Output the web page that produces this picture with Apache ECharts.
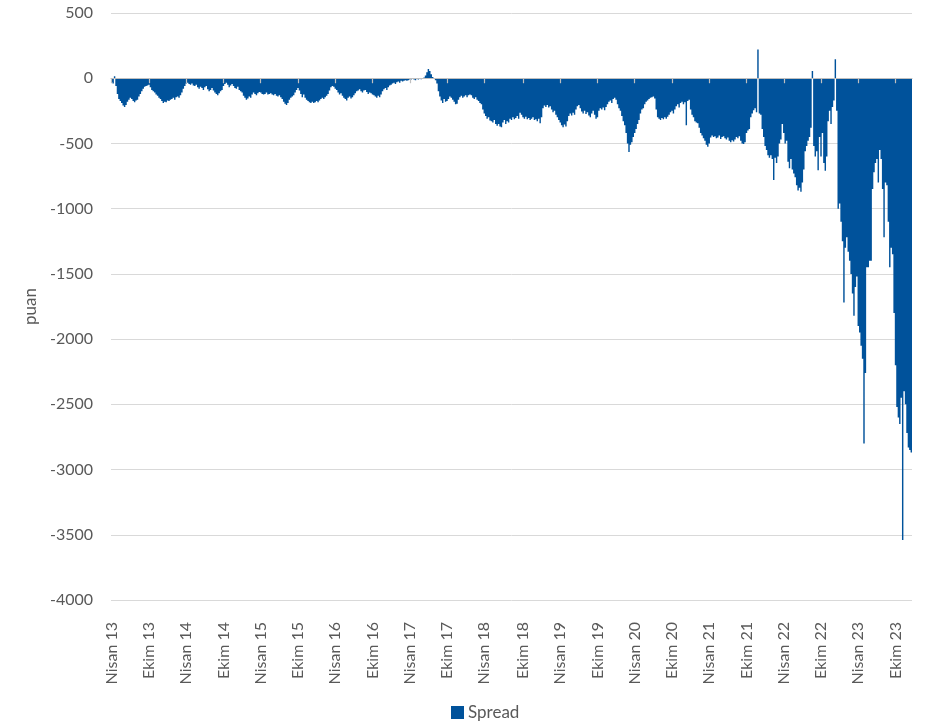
<!DOCTYPE html>
<html>
<head>
<meta charset="utf-8">
<script src="https://cdn.jsdelivr.net/npm/echarts@6/dist/echarts.min.js"></script>
<style>
html,body{margin:0;padding:0;background:#fff;}
#chart{width:927px;height:728px;}
</style>
</head>
<body>
<div id="chart"></div>
<script>
// Weekly spread values (puan), week 0 = week of 1 Apr 2013
const startDate = '2013-04-01';
const nisan13 = [-30,-40,15,-60,-120,-160,-175,-190,-210,-220,-205,-180,-165,-150,-160,-175,-185,-170,-165,-140,-120,-100,-80,-65,-60,-55];
const ekim13 = [-50,-70,-90,-100,-110,-125,-135,-150,-160,-175,-190,-180,-185,-170,-175,-165,-160,-150,-165,-145,-140,-150,-130,-110,-80,-60];
const nisan14 = [-40,-35,-45,-50,-40,-55,-60,-50,-70,-80,-65,-75,-90,-70,-60,-85,-100,-90,-75,-95,-110,-120,-130,-115,-100,-90];
const ekim14 = [-60,-45,-35,-50,-70,-55,-45,-60,-75,-80,-65,-90,-100,-110,-135,-150,-165,-155,-140,-150,-125,-110,-120,-130,-115,-105];
const nisan15 = [-110,-120,-125,-120,-110,-125,-120,-115,-125,-130,-120,-135,-140,-130,-145,-160,-180,-195,-205,-190,-165,-150,-140,-130,-110,-90];
const ekim15 = [-75,-95,-120,-145,-125,-150,-165,-175,-185,-190,-180,-190,-185,-175,-185,-170,-160,-150,-160,-145,-135,-120,-95,-70,-60,-65,-80];
const nisan16 = [-90,-110,-125,-115,-135,-150,-160,-170,-150,-140,-155,-145,-130,-115,-100,-95,-85,-100,-110,-95,-90,-105,-120,-110,-115,-125];
const ekim16 = [-130,-140,-150,-135,-145,-125,-100,-85,-75,-90,-70,-55,-50,-40,-35,-45,-30,-25,-35,-20,-25,-20,-15,-20,-15,-10];
const nisan17 = [-10,-5,-10,-15,-5,-10,-5,-8,0,5,20,45,70,55,30,10,-5,-15,-40,-100,-140,-170,-190,-160,-180,-175];
const ekim17 = [-160,-140,-150,-165,-180,-200,-195,-165,-145,-135,-150,-140,-130,-145,-130,-125,-130,-150,-160,-145,-165,-175,-190,-200,-240,-270];
const nisan18 = [-290,-310,-300,-325,-330,-340,-320,-350,-365,-350,-370,-375,-340,-320,-350,-330,-340,-310,-320,-300,-315,-305,-290,-310,-265,-280];
const ekim18 = [-300,-310,-295,-315,-305,-320,-310,-300,-320,-315,-330,-310,-345,-300,-230,-210,-220,-205,-225,-215,-240,-260,-250,-280,-300,-320];
const nisan19 = [-340,-360,-375,-355,-370,-330,-290,-270,-285,-265,-280,-240,-215,-205,-230,-255,-270,-250,-275,-260,-285,-300,-270,-250,-280,-310];
const ekim19 = [-300,-250,-230,-240,-225,-245,-220,-200,-180,-170,-190,-160,-150,-165,-200,-230,-250,-290,-330,-360,-420,-500,-565,-510,-490,-450];
const nisan20 = [-420,-390,-350,-320,-270,-240,-230,-200,-180,-170,-160,-150,-145,-140,-155,-240,-300,-310,-320,-305,-315,-300,-310,-295,-280,-260];
const ekim20 = [-250,-270,-240,-215,-200,-225,-190,-180,-200,-185,-360,-175,-165,-240,-280,-300,-330,-340,-345,-380,-420,-440,-460,-480,-510,-525];
const nisan21 = [-500,-455,-440,-450,-445,-460,-455,-440,-465,-450,-445,-460,-470,-455,-480,-490,-475,-485,-470,-450,-460,-445,-480,-500,-505,-490];
const ekim21 = [-420,-400,-390,-300,-270,-245,-230,-260,220,-270,-280,-390,-450,-520,-550,-590,-610,-590,-620,-780,-610,-650,-600,-500,-470,-350];
const nisan22 = [-420,-500,-480,-640,-690,-620,-700,-730,-760,-820,-860,-840,-870,-800,-700,-560,-520,-480,-450,-380,55,-520,-600,-560,-705,-450,-600];
const ekim22 = [-420,-650,-710,-600,-330,-250,-350,-220,-170,145,-250,-1000,-960,-1100,-1250,-1720,-1300,-1220,-1330,-1400,-1500,-1650,-1820,-1600,-1520,-1900];
const nisan23 = [-1950,-2050,-2150,-2800,-2260,-1450,-1450,-1400,-1400,-850,-720,-650,-620,-800,-550,-620,-850,-1220,-800,-820,-1100,-1450,-1300,-1350,-1800,-2200];
const ekim23 = [-2520,-2600,-2650,-2450,-3540,-2400,-2500,-2720,-2830,-2850,-2870];

const tickLabels = ['Nisan 13','Ekim 13','Nisan 14','Ekim 14','Nisan 15','Ekim 15','Nisan 16','Ekim 16','Nisan 17','Ekim 17','Nisan 18','Ekim 18','Nisan 19','Ekim 19','Nisan 20','Ekim 20','Nisan 21','Ekim 21','Nisan 22','Ekim 22','Nisan 23','Ekim 23'];
const seriesName = 'Spread';
const yTicks = [500, 0, -500, -1000, -1500, -2000, -2500, -3000, -3500, -4000];

const values = [].concat(nisan13, ekim13, nisan14, ekim14, nisan15, ekim15, nisan16, ekim16, nisan17, ekim17, nisan18, ekim18, nisan19, ekim19, nisan20, ekim20, nisan21, ekim21, nisan22, ekim22, nisan23, ekim23);

// week start dates as categories
const categories = [];
const labelAt = {};
{
  const base = new Date(startDate + 'T00:00:00Z');
  let k = 0;
  for (let i = 0; i < values.length; i++) {
    const d = new Date(base.getTime() + i * 7 * 86400000);
    categories.push(d.toISOString().slice(0, 10));
    const sun = new Date(d.getTime() + 6 * 86400000);
    const m = sun.getUTCMonth();
    if (i === 0 || ((m === 3 || m === 9) && sun.getUTCDate() <= 7)) {
      if (k < tickLabels.length) { labelAt[i] = tickLabels[k]; k++; }
    }
  }
}
const isTick = (idx) => labelAt[idx] !== undefined;

const FONT = 'Lato';
const TXT = '#595959';
const BLUE = '#00529B';

const chart = echarts.init(document.getElementById('chart'), null, {renderer: 'canvas'});
chart.setOption({
  animation: false,
  grid: {left: 111, right: 15, top: 13, bottom: 128, containLabel: false},
  legend: {
    data: [seriesName], bottom: 2, left: 446, icon: 'rect',
    itemWidth: 13, itemHeight: 13, itemGap: 5,
    textStyle: {fontFamily: FONT, fontSize: 17, color: TXT, padding: [0,0,0,-1]}
  },
  xAxis: [{
    type: 'category', data: categories, position: 'bottom', z: 10,
    axisLine: {show: true, onZero: true, lineStyle: {color: '#bfbfbf', width: 1.2}},
    axisTick: {show: true, interval: (i) => isTick(i), alignWithLabel: true, length: 5, lineStyle: {color: '#bfbfbf', width: 1.2}},
    axisLabel: {show: false},
    splitLine: {show: false}
  }, {
    type: 'category', data: categories, position: 'bottom',
    axisLine: {show: false, onZero: false},
    axisTick: {show: false},
    axisLabel: {
      show: true, interval: (i) => isTick(i), rotate: 90, margin: 22,
      formatter: (v, i) => labelAt[i] || '',
      fontFamily: FONT, fontSize: 16, color: TXT
    },
    splitLine: {show: false}
  }],
  yAxis: {
    type: 'value', min: yTicks[yTicks.length - 1], max: yTicks[0], interval: 500,
    name: 'puan', nameLocation: 'middle', nameGap: 67, nameRotate: 90,
    nameTextStyle: {fontFamily: FONT, fontSize: 17, color: TXT},
    axisLine: {show: false}, axisTick: {show: false},
    axisLabel: {fontFamily: FONT, fontSize: 16, color: TXT, margin: 18, formatter: (v) => String(v)},
    splitLine: {lineStyle: {color: '#d9d9d9', width: 1}}
  },
  series: [{
    name: seriesName, type: 'bar', xAxisIndex: 0, data: values,
    large: true, largeThreshold: 100,
    barCategoryGap: '0%',
    itemStyle: {color: BLUE}
  }]
});
</script>
</body>
</html>
